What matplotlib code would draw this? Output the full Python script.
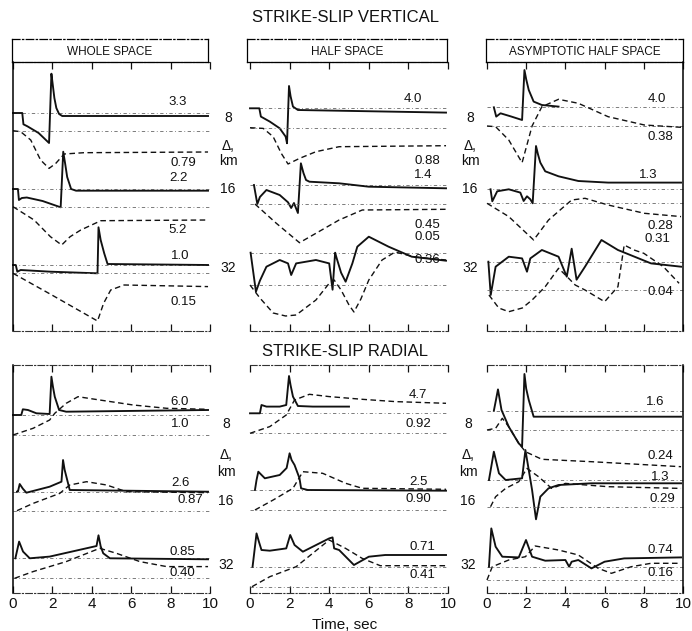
import matplotlib
matplotlib.use("Agg")
import matplotlib.pyplot as plt

plt.rcParams['font.family'] = ['Liberation Sans', 'DejaVu Sans']

# ---------------- DATA: (time sec, relative amplitude) per trace ----------------
# Strike-slip vertical, whole space
WSV8_SOLID = [(0, 0), (0.47, 0), (0.53, -11.3), (0.73, -13.3), (1.3, -20), (1.83, -30), (1.95, 39.3), (2.02, 28),
              (2.1, 15), (2.2, 5), (2.34, -1), (2.5, -3), (9.9, -3)]
WSV8_DASH = [(0, 0), (0.39, -1), (0.9, -9.3), (1.4, -29.3), (1.83, -37.7), (2.17, -32.7), (2.6, -23.3), (3.6, -22), (9.9, -21.3)]
WSV16_SOLID = [(0, 0), (0.25, 0), (0.3, -11), (0.45, -9), (0.7, -8.5), (1.5, -12), (2.42, -18.3), (2.55, 37.3), (2.65, 25),
               (2.75, 12), (2.95, 0), (3.2, -1.7), (9.9, -1.7)]
WSV16_DASH = [(0, 0), (1.07, -13.3), (1.9, -30), (2.47, -38.3), (2.9, -30), (3.44, -23.3), (4.46, -14), (9.9, -13.3)]
WSV32_SOLID = [(0, 0), (0.14, 0), (0.22, -6.7), (0.39, -5), (1.9, -6.7), (4.29, -8.3), (4.34, 37.7), (4.45, 25), (4.63, 11.7),
               (4.8, 1), (9.9, 0)]
WSV32_DASH = [(0, 0), (2.0, -22), (4.29, -47.7), (4.6, -30), (4.96, -16.7), (5.64, -11.7), (9.9, -13.3)]

# Strike-slip vertical, half space
HSV8_SOLID = [(0, 0), (0.47, 0), (0.55, -8.3), (1.0, -13.3), (1.5, -20), (1.8, -28.3), (1.87, -35), (1.97, 22.3), (2.05, 12),
              (2.17, 1.7), (2.42, -1.7), (9.9, -4.3)]
HSV8_DASH = [(0, 0), (0.67, -0.7), (1.17, -9), (1.58, -25.7), (1.92, -36.3), (2.5, -30.7), (3.33, -24), (4.5, -19), (9.9, -18)]
HSV16_SOLID = [(0.2, 0), (0.37, -19), (0.5, -12), (0.83, -5), (1.5, -10), (1.92, -17.3), (2.08, -23), (2.22, -18), (2.42, -28),
               (2.57, 21.7), (2.7, 12), (2.83, 5), (3.0, 3.3), (4.5, 1.7), (6.0, -1.7), (9.9, -3.3)]
HSV16_DASH = [(0.25, 0), (1.33, -19.3), (2.5, -38.7), (3.33, -29.3), (4.5, -16), (5.67, -6), (9.9, -5.3)]
HSV32_SOLID = [(0.03, 0), (0.3, -39), (0.5, -28), (0.83, -14), (1.5, -7.3), (1.92, -10.7), (2.08, -22.3), (2.33, -10.7),
               (3.33, -7.3), (4.0, -10.7), (4.17, -37), (4.3, 0), (4.37, -5), (4.6, -20), (4.83, -29), (5.17, -10.7),
               (5.42, 6), (6.0, 16), (7.0, 6), (8.17, -4), (9.9, -8)]
HSV32_DASH = [(0, 0), (0.5, -13), (1.17, -28), (1.8, -31), (2.33, -30), (3.33, -15), (4.0, 1.7), (4.25, 5), (4.6, -5),
              (5.0, -20), (5.25, -27), (5.6, -14), (6.0, 5), (6.67, 25), (7.33, 33), (8.33, 28), (9.9, 25)]

# Strike-slip vertical, asymptotic half space
AHV8_SOLID = [(0.35, 0), (0.47, -9.3), (0.69, -6), (1.2, -9), (1.79, -12.7), (1.91, 37.3), (2.0, 28), (2.13, 17.3),
              (2.38, 5.7), (2.8, 2.3), (3.65, 0.7)]
AHV8_DASH = [(0, 0), (0.44, -0.7), (1.11, -14), (1.79, -36.7), (2.3, 0), (2.8, 19.3), (3.65, 26.7), (4.66, 22.7),
             (6.18, 9.3), (8.03, 1), (9.9, -1.3)]
AHV16_SOLID = [(0.18, 0), (0.27, -12), (0.52, -2), (1.11, 0), (1.7, -3.3), (1.87, -11.7), (2.04, -7), (2.21, -10),
               (2.33, -14), (2.5, 43.3), (2.6, 35), (2.72, 26.7), (2.97, 18), (3.65, 13), (4.66, 8.3), (6.18, 6.7), (9.9, 6.7)]
AHV16_DASH = [(0, 0), (1.11, -13.3), (2.38, -36.7), (3.14, -16.7), (4.32, 3.3), (5.0, 5), (6.18, -1.7), (8.03, -10), (9.9, -13.3)]
AHV32_SOLID = [(0.07, 0), (0.19, -33.3), (0.44, -5), (1.11, 5), (1.79, 3.3), (2.04, -10), (2.21, 3.3), (2.8, 11.7),
               (3.65, 5), (4.07, -15), (4.32, 13), (4.57, -18), (5.0, -5), (5.84, 21.7), (6.68, 11.7), (8.37, -1.7), (9.9, -5)]
AHV32_DASH = [(0.1, -5), (0.6, -18), (1.11, -21.7), (1.8, -18), (2.3, -10), (2.97, 3.3), (3.65, 21.7), (4.0, 15),
              (4.5, 5), (5.0, 0), (6.0, -11.7), (6.68, 3.3), (7.0, 45), (7.5, 40), (8.0, 36.7), (9.0, 23.3), (9.8, 6.7)]

# Strike-slip radial, whole space
WSR8_SOLID = [(0, 0), (0.42, 0), (0.5, 5.7), (0.76, 5), (1.19, 1.7), (1.86, 1), (1.95, 38.3), (2.03, 28), (2.12, 18.3),
              (2.34, 5), (2.7, 3.3), (9.9, 5)]
WSR8_DASH = [(0, 0), (1.02, 6.7), (1.86, 15), (2.12, 21.7), (2.7, 31.7), (3.3, 38.3), (4.4, 35), (6.1, 30), (7.8, 26.7), (9.9, 25.7)]
WSR16_SOLID = [(0.2, 0), (0.25, 0), (0.34, 7.7), (0.5, 3), (0.68, -1), (1.86, 5), (2.46, 10), (2.54, 31.7), (2.62, 22),
               (2.71, 15), (2.88, 1.7), (9.9, 0)]
WSR16_DASH = [(0.2, 0), (1.02, 7.3), (2.37, 17.3), (2.88, 25.7), (3.73, 29), (4.75, 25.7), (5.76, 19), (9.9, 18)]
WSR32_SOLID = [(0.12, 0), (0.31, 16.7), (0.51, 6.7), (0.85, 0), (1.86, 1.7), (4.24, 12.3), (4.34, 23), (4.45, 12),
               (4.58, 5), (4.92, 0), (9.9, -1)]
WSR32_DASH = [(0.08, 0), (1.02, 6.7), (2.7, 16.7), (4.4, 30), (5.25, 25), (6.44, 16.7), (7.8, 11.7), (9.9, 11.7)]

# Strike-slip radial, half space
HSR8_SOLID = [(0, 0), (0.5, 0), (0.58, 8.3), (0.83, 6.7), (1.5, 6.7), (1.83, 8.3), (1.97, 37.3), (2.05, 28), (2.17, 16.7),
              (2.42, 7.3), (3.17, 6.7), (5.0, 6.7)]
HSR8_DASH = [(0, 0), (1.0, 6.7), (1.83, 18.3), (2.25, 33.3), (3.0, 39), (4.0, 36.7), (5.67, 34), (7.33, 31.7), (9.9, 30)]
HSR16_SOLID = [(0.25, 0), (0.33, 10), (0.42, 18.3), (0.75, 11.7), (1.5, 15), (1.85, 22), (2.0, 36.7), (2.1, 30),
               (2.25, 25), (2.5, 11.7), (2.58, 1.7), (2.92, 0), (9.9, -0.7)]
HSR16_DASH = [(0.25, 0), (1.17, 10), (2.17, 21.7), (2.67, 38.3), (3.67, 36.7), (4.83, 26.7), (5.67, 21.7), (9.9, 20.7)]
HSR32_SOLID = [(0.13, 0), (0.33, 33.3), (0.45, 25), (0.58, 16.7), (1.0, 16), (1.83, 18.3), (2.03, 31.7), (2.25, 21.7),
               (2.67, 15), (4.0, 28.3), (4.17, 29.3), (4.25, 18.3), (4.5, 16.7), (5.25, 1.7), (6.0, 10), (6.83, 11.7), (9.9, 11.7)]
HSR32_DASH = [(0.1, 0), (1.0, 10), (2.33, 20), (4.0, 46.7), (4.83, 38.3), (5.67, 28.3), (6.58, 21), (9.9, 21)]

# Strike-slip radial, asymptotic half space
AHR8_SOLID = [(0.35, 0), (0.45, 10), (0.56, 21.3), (0.74, 0.7), (1.11, -16), (1.62, -32.7), (1.79, -36), (1.91, 36.7),
              (2.0, 22), (2.13, 10.7), (2.38, -6), (2.97, -6), (9.9, -6)]
AHR8_DASH = [(0, 0), (0.44, 1.7), (0.78, 11.7), (1.11, 3.3), (1.62, -13.3), (1.96, -21.7), (2.8, -29.3), (5.33, -31.7), (9.9, -36.7)]
AHR16_SOLID = [(0.1, 0), (0.35, 28.3), (0.45, 20), (0.61, 6.7), (0.95, 0), (1.79, 1.7), (1.96, 30), (2.13, 10), (2.3, -10),
               (2.5, -39.3), (2.72, -16.7), (3.14, -8.3), (3.65, -5), (5.33, -3.3), (9.9, -3.3)]
AHR16_DASH = [(0.18, 0), (0.44, 10), (0.95, 18.3), (1.62, 25), (2.04, 38.3), (2.63, 30), (3.3, 18.3), (4.0, 23.3),
              (6.18, 20), (9.9, 18.3)]
AHR32_SOLID = [(0.1, 0), (0.22, 38.3), (0.44, 20), (0.78, 10), (1.62, 9.3), (1.99, 26.7), (2.3, 10), (2.97, 6), (4.0, 6.7),
               (4.19, 0), (4.32, 5), (4.66, 6.7), (5.33, -1.7), (6.0, 5), (7.0, 8.3), (9.9, 9.3)]
AHR32_DASH = [(0, 0), (0.27, 13.3), (1.11, 20), (1.96, 23.3), (2.46, 34), (3.65, 30), (4.66, 25), (5.67, 11.7),
              (6.35, 6.7), (7.36, 13.3), (8.37, 16.7), (9.9, 16.7)]

# amplitude labels (solid 8, dashed 8, solid 16, dashed 16, solid 32, dashed 32)
WSV_LABELS = ["3.3", "0.79", "2.2", "5.2", "1.0", "0.15"]
HSV_LABELS = ["4.0", "0.88", "1.4", "0.45", "0.05", "0.36"]
AHV_LABELS = ["4.0", "0.38", "1.3", "0.28", "0.31", "0.04"]
WSR_LABELS = ["6.0", "1.0", "2.6", "0.87", "0.85", "0.40"]
HSR_LABELS = ["4.7", "0.92", "2.5", "0.90", "0.71", "0.41"]
AHR_LABELS = ["1.6", "0.24", "1.3", "0.29", "0.74", "0.16"]

PANEL_TITLES = ["WHOLE SPACE", "HALF SPACE", "ASYMPTOTIC HALF SPACE"]
DISTANCES = ["8", "16", "32"]
TIME_TICKS = [0, 2, 4, 6, 8, 10]

# ---------------- LAYOUT ----------------
W, H = 692, 631
fig = plt.figure(figsize=(W / 100, H / 100), dpi=100)
fig.patch.set_facecolor('white')


def box(x0, y0, x1, y1):
    return [x0 / W, 1 - y1 / H, (x1 - x0) / W, (y1 - y0) / H]


COLS = [(13, 210), (250, 448), (487, 683)]          # pixel of t=0 and t=10
BORDERS = [(12, 208), (247, 447), (486, 683)]
ROWS = [(62, 331), (365, 593)]

PANELS = [
    (0, 0, [WSV8_SOLID, WSV8_DASH, WSV16_SOLID, WSV16_DASH, WSV32_SOLID, WSV32_DASH], WSV_LABELS,
     [113, 130.7, 189, 206.7, 265, 273.3], [(178, 102), (183, 163), (178, 178), (178, 230), (180, 256), (183, 302)]),
    (0, 1, [HSV8_SOLID, HSV8_DASH, HSV16_SOLID, HSV16_DASH, HSV32_SOLID, HSV32_DASH], HSV_LABELS,
     [108.3, 127.7, 185, 204, 252.7, 285], [(413, 99), (427, 161), (423, 175), (427, 225), (427, 237), (427, 260)]),
    (0, 2, [AHV8_SOLID, AHV8_DASH, AHV16_SOLID, AHV16_DASH, AHV32_SOLID, AHV32_DASH], AHV_LABELS,
     [107.3, 126, 189.3, 203.3, 261.7, 290], [(657, 99), (660, 137), (648, 175), (660, 226), (657, 239), (660, 292)]),
    (1, 0, [WSR8_SOLID, WSR8_DASH, WSR16_SOLID, WSR16_DASH, WSR32_SOLID, WSR32_DASH], WSR_LABELS,
     [415, 435, 491.7, 510.7, 558.3, 578.3], [(180, 402), (180, 424), (180, 483), (190, 500), (182, 552), (182, 573)]),
    (1, 1, [HSR8_SOLID, HSR8_DASH, HSR16_SOLID, HSR16_DASH, HSR32_SOLID, HSR32_DASH], HSR_LABELS,
     [413.3, 433.3, 490, 510, 566.7, 586.7], [(418, 395), (418, 424), (418, 482), (418, 499), (422, 547), (422, 575)]),
    (1, 2, [AHR8_SOLID, AHR8_DASH, AHR16_SOLID, AHR16_DASH, AHR32_SOLID, AHR32_DASH], AHR_LABELS,
     [410.7, 430, 480, 506.7, 566.7, 580], [(655, 402), (660, 456), (660, 477), (662, 499), (660, 550), (660, 573)]),
]

INK = '#111111'
REF_LS = (0, (4, 3, 1, 3))

for row, col, traces, labels, bases, lpos in PANELS:
    x0, x1 = COLS[col]
    y0, y1 = ROWS[row]
    ax = fig.add_axes(box(x0, y0, x1, y1))
    ax.set_xlim(0, 10)
    ax.set_ylim(y1, y0)
    ax.patch.set_alpha(0)
    for s in ['top', 'bottom']:
        ax.spines[s].set_linewidth(0.8)
        ax.spines[s].set_linestyle((0, (6, 2, 1, 2)))
        ax.spines[s].set_color('#333333')
    ax.spines['left'].set_visible(col == 0)
    ax.spines['right'].set_visible(col == 2)
    ax.spines['left'].set_linewidth(1.1)
    ax.spines['right'].set_linewidth(1.1)
    ax.set_xticks(TIME_TICKS)
    ax.set_yticks([])
    ax.tick_params(axis='x', direction='in', top=True, bottom=True, length=5, width=0.9,
                   labelbottom=(row == 1), labelsize=11, pad=3, colors=INK)

    for i, (pts, base) in enumerate(zip(traces, bases)):
        dashed = (i % 2 == 1)
        ax.plot([0, 10], [base, base], ls=REF_LS, lw=0.6, color='#666666', clip_on=False)
        t = [p[0] for p in pts]
        y = [base - p[1] for p in pts]
        if dashed:
            ax.plot(t, y, color=INK, lw=1.0, ls=(0, (4, 2.5)), clip_on=False)
        else:
            ax.plot(t, y, color=INK, lw=1.35, clip_on=False, solid_joinstyle='round')

    for txt, (px, py) in zip(labels, lpos):
        tx = (px - x0) / (x1 - x0) * 10
        ax.text(tx, py, txt, ha='center', va='center', fontsize=9.5, color=INK)

    if row == 0:
        bx0, bx1 = BORDERS[col]
        hax = fig.add_axes(box(bx0, 39, bx1, 62))
        hax.set_xticks([])
        hax.set_yticks([])
        hax.patch.set_alpha(0)
        for s in hax.spines.values():
            s.set_linewidth(0.9)
        hax.spines['top'].set_linestyle((0, (6, 2, 1, 2)))
        hax.text(0.5, 0.45, PANEL_TITLES[col], ha='center', va='center', fontsize=8.5,
                 transform=hax.transAxes, color=INK)

# distance labels
for xc in (228, 470):
    for txt, yy in [(DISTANCES[0], 118), ("Δ,", 146), ("km", 161), (DISTANCES[1], 189), (DISTANCES[2], 268)]:
        fig.text(xc / W, 1 - yy / H, txt, ha='center', va='center', fontsize=10, color=INK)
for xc in (226, 468):
    for txt, yy in [(DISTANCES[0], 424), ("Δ,", 455), ("km", 472), (DISTANCES[1], 501), (DISTANCES[2], 565)]:
        fig.text(xc / W, 1 - yy / H, txt, ha='center', va='center', fontsize=10, color=INK)

fig.text(345 / W, 1 - 18 / H, "STRIKE-SLIP VERTICAL", ha='center', va='center', fontsize=12, color=INK)
fig.text(345 / W, 1 - 352 / H, "STRIKE-SLIP RADIAL", ha='center', va='center', fontsize=12, color=INK)
fig.text(345 / W, 1 - 625 / H, "Time, sec", ha='center', va='center', fontsize=11, color=INK)

fig.savefig("out.png", dpi=100, facecolor='white')
